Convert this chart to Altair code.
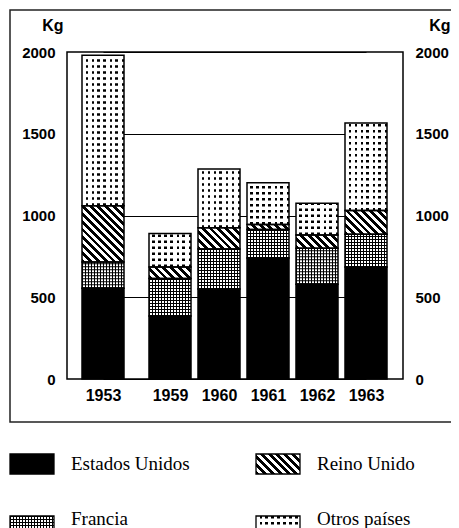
import math
import altair as alt
import pandas as pd

# ---- data ----
years = [1953, 1959, 1960, 1961, 1962, 1963]
estados_unidos = [555, 385, 550, 740, 580, 685]
francia = [160, 230, 245, 175, 220, 200]
reino_unido = [345, 70, 130, 30, 80, 145]
otros_paises = [920, 205, 360, 255, 195, 535]
countries = ["Estados Unidos", "Francia", "Reino Unido", "Otros países"]
kinds = ["eu", "fr", "ru", "ot"]
y_ticks = [0, 500, 1000, 1500, 2000]
legend_col = [0, 0, 1, 1]
legend_row = [0, 1, 0, 1]

rows = []
for order, (name, vals) in enumerate(zip(countries, [estados_unidos, francia, reino_unido, otros_paises])):
    for yr, v in zip(years, vals):
        rows.append({"year": yr, "country": name, "kg": v, "order": order})
df = pd.DataFrame(rows)
legend_df = pd.DataFrame({"country": countries, "col": legend_col, "row": legend_row})

W, H = 336, 327
NUM_FONT = "Liberation Sans, Arial, sans-serif"
SERIF = "Liberation Serif, DejaVu Serif, serif"
CLEAR = "rgba(255,255,255,0)"

xs = alt.Scale(domain=[1953, 1959, 1963], range=[36, 103, 299], padding=0)
ys = alt.Scale(domain=[0, 2000], nice=False, zero=True, padding=0)
lxs = alt.Scale(domain=[0, 1], range=[-35, 211], padding=0)
lys = alt.Scale(domain=[0, 1], range=[412, 474], padding=0)
lts = alt.Scale(domain=[0, 1], range=[412, 467], padding=0)


def vgrad(size, period, on, color):
    stops = []
    p = 0
    while p < size - 0.01:
        a = p / size
        b = min(p + on, size) / size
        c = min(p + period, size) / size
        stops += [alt.GradientStop(offset=a, color=color), alt.GradientStop(offset=b, color=color),
                  alt.GradientStop(offset=b, color=CLEAR), alt.GradientStop(offset=c, color=CLEAR)]
        p += period
    return alt.LinearGradient(gradient="linear", stops=stops, x1=0, x2=1, y1=0, y2=0)


def diag_expr(w, h):
    n, s = 18, 5.5
    k = math.sqrt(2) * n * s
    st = []
    for i in range(n):
        st.append("{offset:%.4f,color:'black'}" % (i / n))
        st.append("{offset:%.4f,color:'black'}" % ((i + 0.5) / n))
        st.append("{offset:%.4f,color:'white'}" % ((i + 0.5) / n))
        st.append("{offset:%.4f,color:'white'}" % ((i + 1) / n))
    d = "(%d+(%s)*(%s))" % (w * w, h, h)
    return ("{gradient:'linear',x1:0,y1:1,x2:%d*%.4f/%s,y2:1-(%s)*%.4f/%s,stops:[%s]}"
            % (w, k, d, h, k, d, ",".join(st)))


def build(kind, ch, enc, size, h_expr, extra):
    out = []
    if kind == "eu":
        out.append(enc(ch.mark_bar(size=size, fill="black", **extra)))
    elif kind == "fr":
        out.append(enc(ch.mark_bar(size=size, fill="white", **extra)))
        out.append(enc(ch.mark_rule(strokeWidth=size, stroke="black", strokeDash=[1, 2], strokeCap="butt", **extra)))
        out.append(enc(ch.mark_bar(size=size, fill=vgrad(size, 3, 1, "black"), **extra)))
    elif kind == "ru":
        out.append(enc(ch.mark_bar(size=size, fill=alt.ExprRef(expr=diag_expr(size, h_expr)), **extra)))
    else:
        out.append(enc(ch.mark_bar(size=size, fill="white", **extra)))
        out.append(enc(ch.mark_rule(strokeWidth=size, stroke="black", strokeDash=[2.5, 3.5], strokeCap="butt",
                                    **extra)))
        out.append(enc(ch.mark_bar(size=size, fill=vgrad(size, 6, 3.5, "white"), **extra)))
    return out


main_base = alt.Chart(df).transform_stack(
    stack="kg", groupby=["year"], as_=["y0", "y1"], sort=[alt.SortField("order", order="ascending")]
)

x_axis = alt.Axis(values=years, format="d", ticks=False, domain=False, grid=False, labelFontSize=16,
                  labelPadding=8, title=None, labelFont=NUM_FONT, labelFontWeight="bold", labelColor="black",
                  labelOverlap=False, labelFlush=False)
left_axis = alt.Axis(values=y_ticks, format="d", orient="left", grid=True, gridColor="black", gridWidth=1.2,
                     gridOpacity=1, ticks=False, domain=False, labelPadding=12, labelFontSize=15,
                     labelFont=NUM_FONT, labelFontWeight="bold", labelColor="black", labelOverlap=False,
                     title="Kg", titleAngle=0, titleX=-4, titleY=-27, titleAlign="right", titleBaseline="middle",
                     titleFontSize=16, titleFont=NUM_FONT, titleFontWeight="bold", titleColor="black")
right_axis = alt.Axis(values=y_ticks, format="d", orient="right", grid=False, ticks=False, domain=False,
                      labelPadding=12, labelFontSize=15, labelFont=NUM_FONT, labelFontWeight="bold",
                      labelColor="black", labelOverlap=False, title="Kg", titleAngle=0, titleX=47, titleY=-27,
                      titleAlign="right", titleBaseline="middle", titleFontSize=16, titleFont=NUM_FONT,
                      titleFontWeight="bold", titleColor="black")


def enc_main_factory(ax=None, ay=None):
    def enc(ch):
        return ch.encode(
            x=alt.X("year:Q", scale=xs, axis=ax),
            y=alt.Y("y0:Q", scale=ys, axis=ay),
            y2="y1:Q",
        )
    return enc


def enc_leg(ch):
    return ch.encode(
        x=alt.X("col:Q", scale=lxs, axis=None),
        y=alt.Y("row:Q", scale=lys, axis=None),
        y2="row:Q",
    )


layers = []
H_EXPR = "(datum.y1-datum.y0)*height/2000"
for i, (name, kind) in enumerate(zip(countries, kinds)):
    ch = main_base.transform_filter(alt.datum.country == name)
    enc = enc_main_factory(x_axis, left_axis) if i == 0 else enc_main_factory()
    layers += build(kind, ch, enc, 42, H_EXPR, {})

# segment outlines (carry the right axis)
layers.append(
    main_base.mark_bar(size=42, fillOpacity=0, stroke="black", strokeWidth=1.5).encode(
        x=alt.X("year:Q", scale=xs, axis=None),
        y=alt.Y("y0:Q", scale=ys, axis=right_axis),
        y2="y1:Q",
    )
)

# legend swatches
leg_extra = {"yOffset": -10, "y2Offset": 10}
for name, kind in zip(countries, kinds):
    ch = alt.Chart(legend_df).transform_filter(alt.datum.country == name)
    layers += build(kind, ch, enc_leg, 44, "20", leg_extra)
layers.append(enc_leg(alt.Chart(legend_df).mark_bar(size=44, fillOpacity=0, stroke="black", strokeWidth=1.3,
                                                   **leg_extra)))
layers.append(
    alt.Chart(legend_df).mark_text(align="left", baseline="middle", dx=39, font=SERIF, fontSize=19,
                                   color="black").encode(
        x=alt.X("col:Q", scale=lxs, axis=None),
        y=alt.Y("row:Q", scale=lts, axis=None),
        text="country:N",
    )
)

# outer frame of the figure
layers.append(
    alt.Chart(alt.Data(values=[{"f": 1}])).mark_rect(fillOpacity=0, stroke="#222", strokeWidth=1.5).encode(
        x=alt.value(-57), x2=alt.value(392), y=alt.value(-42), y2=alt.value(370)
    )
)

chart = alt.layer(*layers).resolve_scale(x="independent", y="independent").properties(
    width=W, height=H,
    autosize=alt.AutoSizeParams(type="none"),
    padding={"left": 59, "top": 44, "right": 48, "bottom": 149},
    background="white",
).configure_view(stroke="black", strokeWidth=1.5)

chart.save("out.html", embed_options={"renderer": "svg", "actions": False})
